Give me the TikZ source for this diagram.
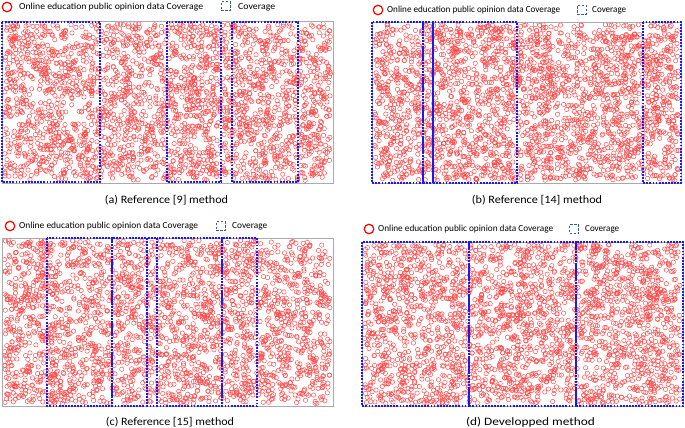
\documentclass[tikz,border=0pt]{standalone}
\usepackage{graphicx}
\usepackage{fontspec}
\setmainfont{Carlito}
\newcommand\fitw[2]{\resizebox{#1}{\height}{#2}}
\definecolor{circred}{RGB}{255,70,70}
\definecolor{covblue}{RGB}{25,25,245}
\definecolor{legblue}{RGB}{60,90,150}
\definecolor{framegray}{RGB}{170,170,170}
\begin{document}
\begin{tikzpicture}[x=1pt,y=-1pt,
  circ/.style={draw=circred,line width=0.45pt},
  framebox/.style={draw=framegray,line width=0.9pt},
  cov/.style={draw=covblue,line width=1.4pt,dash pattern=on 1.8pt off 1.3pt},
  legcirc/.style={circle,draw=red,line width=1.2pt,minimum size=9.5pt,inner sep=0pt},
  legsq/.style={rectangle,draw=legblue,line width=1pt,dash pattern=on 2.5pt off 1.5pt,minimum size=9pt,inner sep=0pt},
  legtxt/.style={anchor=west,inner sep=0pt,font=\fontsize{9.3}{11}\selectfont},
  captxt/.style={inner sep=0pt,font=\fontsize{11.3}{13}\selectfont}]
\useasboundingbox (0,0) rectangle (685,428);
\pgfmathsetseed{4711}
% scattered data circles (small octagons) and gray frames
\foreach \xa/\ya/\xb/\yb in {2/21/333/183, 372/22/681/183, 2/238/333/406, 362/242/683/406} {
  \foreach \j in {1,...,52} {
    \draw[circ] \foreach \i in {1,...,50} {
      ({\xa+4.7+(\xb-\xa-5)*rnd},{\ya+2.5+(\yb-\ya-5)*rnd})
      -- ++(-0.644pt,1.556pt) -- ++(-1.556pt,0.644pt) -- ++(-1.556pt,-0.644pt)
      -- ++(-0.644pt,-1.556pt) -- ++(0.644pt,-1.556pt) -- ++(1.556pt,-0.644pt)
      -- ++(1.556pt,0.644pt) -- cycle };
  }
  \draw[framebox] (\xa,\ya) rectangle (\xb,\yb);
}
% coverage boxes
\foreach \xa/\xb/\ya/\yb in {2/100/22/182, 167/221/22/182, 232/298/22/182,
  372/423/22/183, 423/433/22/183, 433/517/22/183, 643/681/22/183,
  47/112/238/406, 112/147/238/406, 147/157/238/406, 157/222/238/406, 222/257/238/406,
  362/469/242/406, 469/576/242/406, 576/683/242/406}
  \draw[cov] (\xa,\ya) rectangle (\xb,\yb);
% legends
\node[legcirc] (lca) at (7,7) {};
\node[legtxt] (lta) at (19,7) {\fitw{184pt}{Online education public opinion data Coverage}};
\node[legsq] (lsa) at (225.5,6.5) {};
\node[legtxt] (lva) at (238,7) {\fitw{37pt}{Coverage}};
\node[legcirc] (lcb) at (378,10) {};
\node[legtxt] (ltb) at (387,10) {\fitw{173pt}{Online education public opinion data Coverage}};
\node[legsq] (lsb) at (581.5,10) {};
\node[legtxt] (lvb) at (592,10) {\fitw{34pt}{Coverage}};
\node[legcirc] (lcc) at (10,226) {};
\node[legtxt] (ltc) at (19,226) {\fitw{179pt}{Online education public opinion data Coverage}};
\node[legsq] (lsc) at (220.5,226) {};
\node[legtxt] (lvc) at (232,226) {\fitw{35pt}{Coverage}};
\node[legcirc] (lcd) at (369,229) {};
\node[legtxt] (ltd) at (378,229) {\fitw{175pt}{Online education public opinion data Coverage}};
\node[legsq] (lsd) at (574,229) {};
\node[legtxt] (lvd) at (585,229) {\fitw{34pt}{Coverage}};
% captions
\node[captxt] (capa) at (166.5,200) {\fitw{123pt}{(a) Reference [9] method}};
\node[captxt] (capb) at (537,200) {\fitw{130pt}{(b) Reference [14] method}};
\node[captxt] (capc) at (170,422) {\fitw{128pt}{(c) Reference [15] method}};
\node[captxt] (capd) at (530.5,422) {\fitw{129pt}{(d) Developped method}};
\end{tikzpicture}
\end{document}
